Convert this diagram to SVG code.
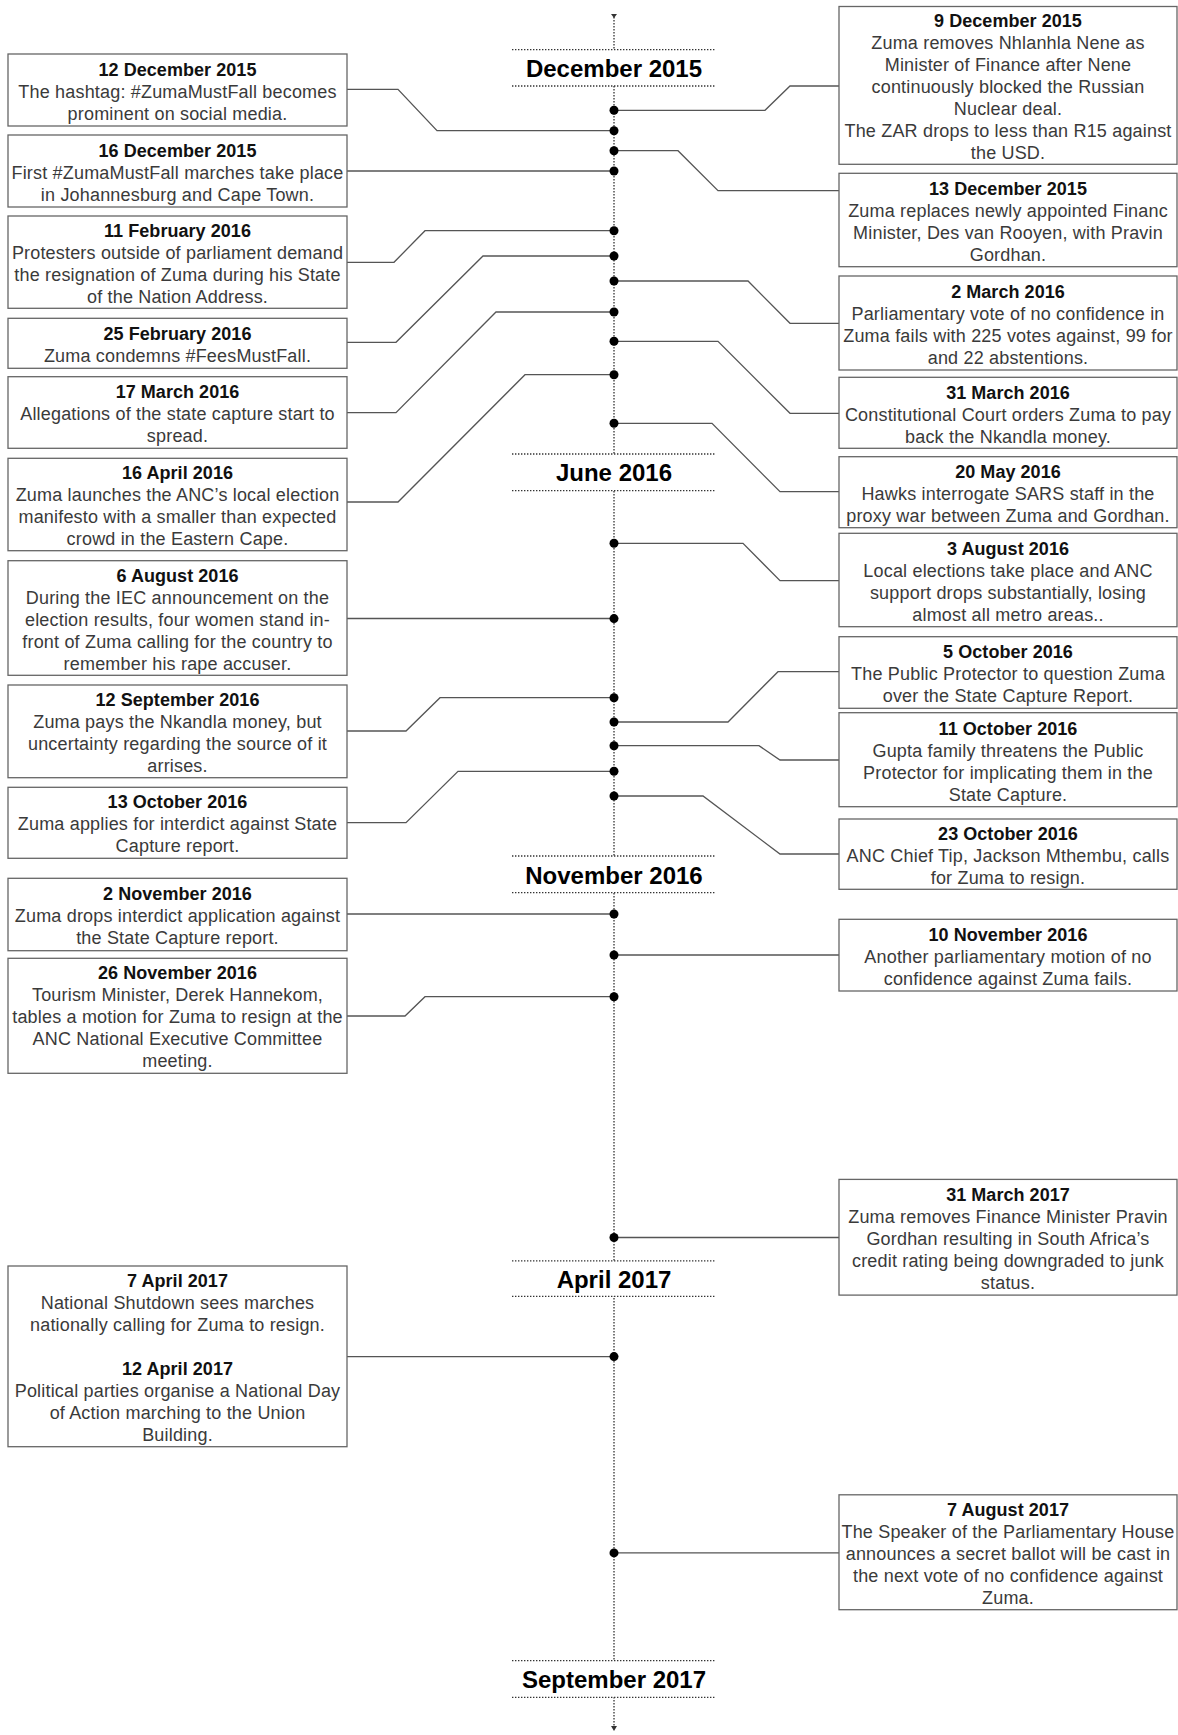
<svg xmlns="http://www.w3.org/2000/svg" width="1178" height="1735" viewBox="0 0 1178 1735">
<style>
.box{fill:#fff;stroke:#666;stroke-width:1.3}
.t{font-family:"Liberation Sans",Arial,Helvetica,sans-serif;font-size:18px;text-anchor:middle;fill:#3a3a3a;letter-spacing:0.18px}
.b{font-weight:bold;fill:#111;letter-spacing:0.05px}
.conn{fill:none;stroke:#555;stroke-width:1.3}
.dot{fill:#000}
.axis{fill:none;stroke:#333;stroke-width:1.3;stroke-dasharray:1.4 1.6}
.mlab{fill:#fff;stroke:none}
.mline{stroke:#333;stroke-width:1.3;stroke-dasharray:1.4 1.6}
.mt{font-family:"Liberation Sans",Arial,Helvetica,sans-serif;font-size:24px;font-weight:bold;text-anchor:middle;fill:#000}
.arr{fill:#333}
</style>
<rect width="1178" height="1735" fill="#fff"/>
<g id="timeline">
<line class="axis" x1="614" y1="14" x2="614" y2="1729"/>
<polygon class="arr" points="611,14 617,14 614,18"/>
<polygon class="arr" points="611,1726 617,1726 614,1731"/>
</g>
<g id="connectors">
<path class="conn" d="M614,110.3 H765 L790,86 H839"/>
<path class="conn" d="M347,89.3 H398 L437,130.7 H614"/>
<path class="conn" d="M614,150.7 H678 L718,190.7 H839"/>
<path class="conn" d="M347,171 H614"/>
<path class="conn" d="M347,262.3 H394 L425,230.7 H614"/>
<path class="conn" d="M347,342.3 H396 L483,256 H614"/>
<path class="conn" d="M614,281 H748 L790,323.3 H839"/>
<path class="conn" d="M347,412.7 H396 L496,312 H614"/>
<path class="conn" d="M614,341.3 H718 L790,413.3 H839"/>
<path class="conn" d="M347,502 H398 L525,374.7 H614"/>
<path class="conn" d="M614,423.3 H712 L780,491.7 H839"/>
<path class="conn" d="M614,543.3 H743 L780,580.7 H839"/>
<path class="conn" d="M347,618.5 H614"/>
<path class="conn" d="M347,731 H406 L440,697.7 H614"/>
<path class="conn" d="M614,722 H728 L778,671.7 H839"/>
<path class="conn" d="M614,745.7 H759 L780,760 H839"/>
<path class="conn" d="M347,822.7 H406 L458,771.3 H614"/>
<path class="conn" d="M614,796 H703 L780,854 H839"/>
<path class="conn" d="M347,914 H614"/>
<path class="conn" d="M614,955 H839"/>
<path class="conn" d="M347,1016 H405 L425,996.7 H614"/>
<path class="conn" d="M614,1237.5 H839"/>
<path class="conn" d="M347,1356.6 H614"/>
<path class="conn" d="M614,1552.9 H839"/>
</g>
<g id="dots">
<circle class="dot" cx="614" cy="110.3" r="4.5"/>
<circle class="dot" cx="614" cy="130.7" r="4.5"/>
<circle class="dot" cx="614" cy="150.7" r="4.5"/>
<circle class="dot" cx="614" cy="171" r="4.5"/>
<circle class="dot" cx="614" cy="230.7" r="4.5"/>
<circle class="dot" cx="614" cy="256" r="4.5"/>
<circle class="dot" cx="614" cy="281" r="4.5"/>
<circle class="dot" cx="614" cy="312" r="4.5"/>
<circle class="dot" cx="614" cy="341.3" r="4.5"/>
<circle class="dot" cx="614" cy="374.7" r="4.5"/>
<circle class="dot" cx="614" cy="423.3" r="4.5"/>
<circle class="dot" cx="614" cy="543.3" r="4.5"/>
<circle class="dot" cx="614" cy="618.6" r="4.5"/>
<circle class="dot" cx="614" cy="697.7" r="4.5"/>
<circle class="dot" cx="614" cy="722" r="4.5"/>
<circle class="dot" cx="614" cy="745.7" r="4.5"/>
<circle class="dot" cx="614" cy="771.3" r="4.5"/>
<circle class="dot" cx="614" cy="796" r="4.5"/>
<circle class="dot" cx="614" cy="914" r="4.5"/>
<circle class="dot" cx="614" cy="955" r="4.5"/>
<circle class="dot" cx="614" cy="996.7" r="4.5"/>
<circle class="dot" cx="614" cy="1237.5" r="4.5"/>
<circle class="dot" cx="614" cy="1356.6" r="4.5"/>
<circle class="dot" cx="614" cy="1552.9" r="4.5"/>
</g>
<g id="month-dec2015">
<rect class="mlab" x="512" y="49.7" width="203" height="36.3"/>
<line class="mline" x1="512" y1="49.7" x2="715" y2="49.7"/>
<line class="mline" x1="512" y1="86" x2="715" y2="86"/>
<text class="mt" x="614" y="76.5">December 2015</text>
</g>
<g id="month-jun2016">
<rect class="mlab" x="512" y="454" width="203" height="36.7"/>
<line class="mline" x1="512" y1="454" x2="715" y2="454"/>
<line class="mline" x1="512" y1="490.7" x2="715" y2="490.7"/>
<text class="mt" x="614" y="480.5">June 2016</text>
</g>
<g id="month-nov2016">
<rect class="mlab" x="512" y="856" width="203" height="36.7"/>
<line class="mline" x1="512" y1="856" x2="715" y2="856"/>
<line class="mline" x1="512" y1="892.7" x2="715" y2="892.7"/>
<text class="mt" x="614" y="883.5">November 2016</text>
</g>
<g id="month-apr2017">
<rect class="mlab" x="512" y="1260.9" width="203" height="35.5"/>
<line class="mline" x1="512" y1="1260.9" x2="715" y2="1260.9"/>
<line class="mline" x1="512" y1="1296.4" x2="715" y2="1296.4"/>
<text class="mt" x="614" y="1287.8">April 2017</text>
</g>
<g id="month-sep2017">
<rect class="mlab" x="512" y="1660.6" width="203" height="36.8"/>
<line class="mline" x1="512" y1="1660.6" x2="715" y2="1660.6"/>
<line class="mline" x1="512" y1="1697.4" x2="715" y2="1697.4"/>
<text class="mt" x="614" y="1687.6">September 2017</text>
</g>
<g id="e-12dec2015">
<rect class="box" x="8" y="54" width="339" height="72"/>
<text class="t"><tspan class="b" x="177.5" y="75.6">12 December 2015</tspan><tspan x="177.5" y="97.6">The hashtag: #ZumaMustFall becomes</tspan><tspan x="177.5" y="119.6">prominent on social media.</tspan></text>
</g>
<g id="e-16dec2015">
<rect class="box" x="8" y="135" width="339" height="72"/>
<text class="t"><tspan class="b" x="177.5" y="156.6">16 December 2015</tspan><tspan x="177.5" y="178.6">First #ZumaMustFall marches take place</tspan><tspan x="177.5" y="200.6">in Johannesburg and Cape Town.</tspan></text>
</g>
<g id="e-11feb2016">
<rect class="box" x="8" y="216" width="339" height="92.3"/>
<text class="t"><tspan class="b" x="177.5" y="236.8">11 February 2016</tspan><tspan x="177.5" y="258.8">Protesters outside of parliament demand</tspan><tspan x="177.5" y="280.8">the resignation of Zuma during his State</tspan><tspan x="177.5" y="302.8">of the Nation Address.</tspan></text>
</g>
<g id="e-25feb2016">
<rect class="box" x="8" y="318.3" width="339" height="50"/>
<text class="t"><tspan class="b" x="177.5" y="339.9">25 February 2016</tspan><tspan x="177.5" y="361.9">Zuma condemns #FeesMustFall.</tspan></text>
</g>
<g id="e-17mar2016">
<rect class="box" x="8" y="376.7" width="339" height="71.6"/>
<text class="t"><tspan class="b" x="177.5" y="398.1">17 March 2016</tspan><tspan x="177.5" y="420.1">Allegations of the state capture start to</tspan><tspan x="177.5" y="442.1">spread.</tspan></text>
</g>
<g id="e-16apr2016">
<rect class="box" x="8" y="458.3" width="339" height="92.4"/>
<text class="t"><tspan class="b" x="177.5" y="479.1">16 April 2016</tspan><tspan x="177.5" y="501.1">Zuma launches the ANC’s local election</tspan><tspan x="177.5" y="523.1">manifesto with a smaller than expected</tspan><tspan x="177.5" y="545.1">crowd in the Eastern Cape.</tspan></text>
</g>
<g id="e-6aug2016">
<rect class="box" x="8" y="560.7" width="339" height="114.6"/>
<text class="t"><tspan class="b" x="177.5" y="581.6">6 August 2016</tspan><tspan x="177.5" y="603.6">During the IEC announcement on the</tspan><tspan x="177.5" y="625.6">election results, four women stand in-</tspan><tspan x="177.5" y="647.6">front of Zuma calling for the country to</tspan><tspan x="177.5" y="669.6">remember his rape accuser.</tspan></text>
</g>
<g id="e-12sep2016">
<rect class="box" x="8" y="685" width="339" height="92.7"/>
<text class="t"><tspan class="b" x="177.5" y="705.9">12 September 2016</tspan><tspan x="177.5" y="727.9">Zuma pays the Nkandla money, but</tspan><tspan x="177.5" y="749.9">uncertainty regarding the source of it</tspan><tspan x="177.5" y="771.9">arrises.</tspan></text>
</g>
<g id="e-13oct2016">
<rect class="box" x="8" y="787.3" width="339" height="71"/>
<text class="t"><tspan class="b" x="177.5" y="808.4">13 October 2016</tspan><tspan x="177.5" y="830.4">Zuma applies for interdict against State</tspan><tspan x="177.5" y="852.4">Capture report.</tspan></text>
</g>
<g id="e-2nov2016">
<rect class="box" x="8" y="878.3" width="339" height="72.4"/>
<text class="t"><tspan class="b" x="177.5" y="900.1">2 November 2016</tspan><tspan x="177.5" y="922.1">Zuma drops interdict application against</tspan><tspan x="177.5" y="944.1">the State Capture report.</tspan></text>
</g>
<g id="e-26nov2016">
<rect class="box" x="8" y="958.3" width="339" height="115"/>
<text class="t"><tspan class="b" x="177.5" y="979.4">26 November 2016</tspan><tspan x="177.5" y="1001.4">Tourism Minister, Derek Hannekom,</tspan><tspan x="177.5" y="1023.4">tables a motion for Zuma to resign at the</tspan><tspan x="177.5" y="1045.4">ANC National Executive Committee</tspan><tspan x="177.5" y="1067.4">meeting.</tspan></text>
</g>
<g id="e-apr2017">
<rect class="box" x="8" y="1266" width="339" height="180.7"/>
<text class="t"><tspan class="b" x="177.5" y="1286.9">7 April 2017</tspan><tspan x="177.5" y="1308.9">National Shutdown sees marches</tspan><tspan x="177.5" y="1330.9">nationally calling for Zuma to resign.</tspan><tspan class="b" x="177.5" y="1374.9">12 April 2017</tspan><tspan x="177.5" y="1396.9">Political parties organise a National Day</tspan><tspan x="177.5" y="1418.9">of Action marching to the Union</tspan><tspan x="177.5" y="1440.9">Building.</tspan></text>
</g>
<g id="e-9dec2015">
<rect class="box" x="839" y="6.5" width="338" height="157.8"/>
<text class="t"><tspan class="b" x="1008" y="26.5">9 December 2015</tspan><tspan x="1008" y="48.5">Zuma removes Nhlanhla Nene as</tspan><tspan x="1008" y="70.5">Minister of Finance after Nene</tspan><tspan x="1008" y="92.5">continuously blocked the Russian</tspan><tspan x="1008" y="114.5">Nuclear deal.</tspan><tspan x="1008" y="136.5">The ZAR drops to less than R15 against</tspan><tspan x="1008" y="158.5">the USD.</tspan></text>
</g>
<g id="e-13dec2015">
<rect class="box" x="839" y="173.3" width="338" height="93.4"/>
<text class="t"><tspan class="b" x="1008" y="194.8">13 December 2015</tspan><tspan x="1008" y="216.8">Zuma replaces newly appointed Financ</tspan><tspan x="1008" y="238.8">Minister, Des van Rooyen, with Pravin</tspan><tspan x="1008" y="260.8">Gordhan.</tspan></text>
</g>
<g id="e-2mar2016">
<rect class="box" x="839" y="276" width="338" height="94"/>
<text class="t"><tspan class="b" x="1008" y="297.8">2 March 2016</tspan><tspan x="1008" y="319.8">Parliamentary vote of no confidence in</tspan><tspan x="1008" y="341.8">Zuma fails with 225 votes against, 99 for</tspan><tspan x="1008" y="363.8">and 22 abstentions.</tspan></text>
</g>
<g id="e-31mar2016">
<rect class="box" x="839" y="377.3" width="338" height="71"/>
<text class="t"><tspan class="b" x="1008" y="398.6">31 March 2016</tspan><tspan x="1008" y="420.6">Constitutional Court orders Zuma to pay</tspan><tspan x="1008" y="442.6">back the Nkandla money.</tspan></text>
</g>
<g id="e-20may2016">
<rect class="box" x="839" y="456.7" width="338" height="71"/>
<text class="t"><tspan class="b" x="1008" y="478">20 May 2016</tspan><tspan x="1008" y="500">Hawks interrogate SARS staff in the</tspan><tspan x="1008" y="522">proxy war between Zuma and Gordhan.</tspan></text>
</g>
<g id="e-3aug2016">
<rect class="box" x="839" y="533.3" width="338" height="93.4"/>
<text class="t"><tspan class="b" x="1008" y="554.8">3 August 2016</tspan><tspan x="1008" y="576.8">Local elections take place and ANC</tspan><tspan x="1008" y="598.8">support drops substantially, losing</tspan><tspan x="1008" y="620.8">almost all metro areas..</tspan></text>
</g>
<g id="e-5oct2016">
<rect class="box" x="839" y="636.7" width="338" height="71.6"/>
<text class="t"><tspan class="b" x="1008" y="658.3">5 October 2016</tspan><tspan x="1008" y="680.3">The Public Protector to question Zuma</tspan><tspan x="1008" y="702.3">over the State Capture Report.</tspan></text>
</g>
<g id="e-11oct2016">
<rect class="box" x="839" y="712.7" width="338" height="94"/>
<text class="t"><tspan class="b" x="1008" y="734.5">11 October 2016</tspan><tspan x="1008" y="756.5">Gupta family threatens the Public</tspan><tspan x="1008" y="778.5">Protector for implicating them in the</tspan><tspan x="1008" y="800.5">State Capture.</tspan></text>
</g>
<g id="e-23oct2016">
<rect class="box" x="839" y="819" width="338" height="70.3"/>
<text class="t"><tspan class="b" x="1008" y="840">23 October 2016</tspan><tspan x="1008" y="862">ANC Chief Tip, Jackson Mthembu, calls</tspan><tspan x="1008" y="884">for Zuma to resign.</tspan></text>
</g>
<g id="e-10nov2016">
<rect class="box" x="839" y="919.3" width="338" height="71.7"/>
<text class="t"><tspan class="b" x="1008" y="941">10 November 2016</tspan><tspan x="1008" y="963">Another parliamentary motion of no</tspan><tspan x="1008" y="985">confidence against Zuma fails.</tspan></text>
</g>
<g id="e-31mar2017">
<rect class="box" x="839" y="1179.4" width="338" height="115.7"/>
<text class="t"><tspan class="b" x="1008" y="1201.1">31 March 2017</tspan><tspan x="1008" y="1223.1">Zuma removes Finance Minister Pravin</tspan><tspan x="1008" y="1245.1">Gordhan resulting in South Africa’s</tspan><tspan x="1008" y="1267.1">credit rating being downgraded to junk</tspan><tspan x="1008" y="1289.1">status.</tspan></text>
</g>
<g id="e-7aug2017">
<rect class="box" x="839" y="1494.8" width="338" height="114.9"/>
<text class="t"><tspan class="b" x="1008" y="1516.1">7 August 2017</tspan><tspan x="1008" y="1538.1">The Speaker of the Parliamentary House</tspan><tspan x="1008" y="1560.1">announces a secret ballot will be cast in</tspan><tspan x="1008" y="1582.1">the next vote of no confidence against</tspan><tspan x="1008" y="1604.1">Zuma.</tspan></text>
</g>
</svg>
